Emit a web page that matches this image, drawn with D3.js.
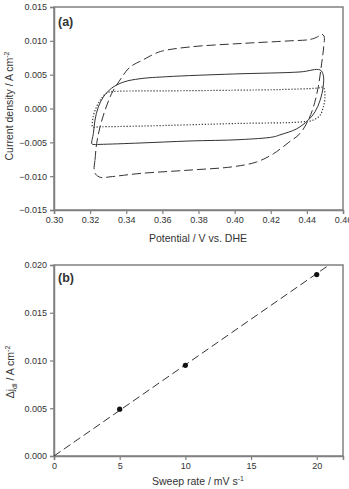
<!DOCTYPE html>
<html>
<head>
<meta charset="utf-8">
<script src="https://cdn.jsdelivr.net/npm/d3@7"></script>
<style>
  body { margin: 0; background: #fff; }
  text { font-family: "Liberation Sans", Arial, sans-serif; fill: #333; }
</style>
</head>
<body>
<svg id="chart" width="349" height="489"></svg>
<script>
// panel (a) - cyclic voltammograms
const potTicks = [0.30, 0.32, 0.34, 0.36, 0.38, 0.40, 0.42, 0.44, 0.46];
const curTicks = [-0.015, -0.010, -0.005, 0.000, 0.005, 0.010, 0.015];

// 20 mV/s (dashed)
const dashE = [0.3222, 0.3227, 0.3236, 0.3255, 0.3282, 0.3319, 0.3365, 0.3420, 0.3494, 0.3550, 0.3600, 0.3753, 0.4030, 0.4307, 0.4417, 0.4460, 0.4480, 0.4495, 0.4493, 0.4482, 0.4463, 0.4436, 0.4408, 0.4362, 0.4300, 0.4214, 0.4122, 0.3993, 0.3753, 0.3476, 0.3310, 0.3260, 0.3230];
const dashJ = [-0.0090, -0.0076, -0.0052, -0.0027, -0.0003, 0.0022, 0.0042, 0.0061, 0.0072, 0.0080, 0.0085, 0.0091, 0.0096, 0.0100, 0.0102, 0.0106, 0.0110, 0.0107, 0.0091, 0.0067, 0.0032, 0.0002, -0.0017, -0.0037, -0.0050, -0.0067, -0.0079, -0.0086, -0.0091, -0.0096, -0.0101, -0.0102, -0.0097];

// 10 mV/s (solid)
const solidE = [0.3209, 0.3218, 0.3227, 0.3245, 0.3273, 0.3319, 0.3384, 0.3476, 0.3624, 0.3993, 0.4362, 0.4473, 0.4491, 0.4490, 0.4473, 0.4445, 0.4408, 0.4344, 0.4251, 0.4214, 0.4030, 0.3753, 0.3476, 0.3255, 0.3215];
const solidJ = [-0.0052, -0.0037, -0.0017, 0.0002, 0.0017, 0.0030, 0.0039, 0.0044, 0.0047, 0.0051, 0.0054, 0.0057, 0.0049, 0.0032, 0.0012, -0.0005, -0.0017, -0.0030, -0.0039, -0.0042, -0.0046, -0.0048, -0.0051, -0.0053, -0.0053];

// 5 mV/s (dotted)
const dotE = [0.3214, 0.3214, 0.3227, 0.3255, 0.3292, 0.3330, 0.3624, 0.3993, 0.4251, 0.4454, 0.4491, 0.4500, 0.4491, 0.4473, 0.4436, 0.4362, 0.4030, 0.3476, 0.3255];
const dotJ = [-0.0027, -0.0017, -0.0003, 0.0012, 0.0023, 0.0025, 0.0026, 0.0027, 0.0028, 0.0030, 0.0031, 0.0017, 0.0002, -0.0010, -0.0017, -0.0020, -0.0022, -0.0026, -0.0027];

// panel (b) - double layer current vs sweep rate
const rateTicks = [0, 5, 10, 15, 20];
const djTicks = [0.000, 0.005, 0.010, 0.015, 0.020];
const sweepRate = [5, 10, 20];
const deltaJ = [0.0049, 0.0095, 0.0190];
const fitRate = [0, 20.94];
const fitDJ = [0, 0.020];

const svg = d3.select("#chart");
const frameColor = "#808080";
const lineColor = "#333";

function panel(top, bottom, xDom, yDom, xTicks, yTicks, xFmt, yFmt) {
  const x = d3.scaleLinear().domain(xDom).range([54, 343]);
  const y = d3.scaleLinear().domain(yDom).range([bottom, top]);
  const g = svg.append("g");
  g.append("rect")
    .attr("x", 54).attr("y", top)
    .attr("width", 289).attr("height", bottom - top)
    .attr("fill", "none").attr("stroke", frameColor).attr("stroke-width", 1.5);
  const xa = g.append("g").attr("transform", `translate(0,${bottom})`)
    .call(d3.axisBottom(x).tickValues(xTicks).tickFormat(xFmt).tickSize(4).tickPadding(3));
  const ya = g.append("g").attr("transform", "translate(54,0)")
    .call(d3.axisLeft(y).tickValues(yTicks).tickFormat(yFmt).tickSize(4).tickPadding(3));
  [xa, ya].forEach(a => {
    a.select(".domain").attr("stroke", frameColor).attr("stroke-width", 1.5);
    a.selectAll(".tick line").attr("stroke", frameColor).attr("stroke-width", 1.2);
    a.selectAll(".tick text").attr("font-size", 9).attr("fill", "#333")
      .attr("font-family", "Liberation Sans, Arial, sans-serif");
  });
  return { g, x, y };
}

// ---- (a)
const A = panel(7, 210, [0.30, 0.46], [-0.015, 0.015], potTicks, curTicks, d3.format(".2f"), d3.format(".3f"));

const loop = d3.line()
  .x(d => A.x(d[0])).y(d => A.y(d[1]))
  .curve(d3.curveCatmullRomClosed.alpha(0.5));

const loops = [
  { e: dotE, j: dotJ, dash: "1.2,1.8", w: 1.2 },
  { e: solidE, j: solidJ, dash: null, w: 1 },
  { e: dashE, j: dashJ, dash: "9,4", w: 1 }
];
loops.forEach(l => {
  A.g.append("path")
    .attr("d", loop(d3.zip(l.e, l.j)))
    .attr("fill", "none")
    .attr("stroke", lineColor)
    .attr("stroke-width", l.w)
    .attr("stroke-dasharray", l.dash);
});

A.g.append("text").attr("x", 58).attr("y", 26)
  .attr("font-size", 12.5).attr("font-weight", "bold").attr("fill", "#222").text("(a)");

A.g.append("text").attr("x", 198).attr("y", 242).attr("text-anchor", "middle")
  .attr("font-size", 10.5).text("Potential / V vs. DHE");

const yla = A.g.append("text").attr("transform", "translate(13,106) rotate(-90)")
  .attr("text-anchor", "middle").attr("font-size", 10.5);
yla.append("tspan").text("Current density / A cm");
yla.append("tspan").attr("dy", -4).attr("font-size", 7).text("-2");

// ---- (b)
const B = panel(265, 456, [0, 22], [0, 0.020], rateTicks, djTicks, d3.format("d"), d3.format(".3f"));

const fit = d3.line().x(d => B.x(d[0])).y(d => B.y(d[1]));
B.g.append("path")
  .attr("d", fit(d3.zip(fitRate, fitDJ)))
  .attr("fill", "none").attr("stroke", lineColor).attr("stroke-width", 1)
  .attr("stroke-dasharray", "8,4");

B.g.selectAll("circle.pt")
  .data(d3.zip(sweepRate, deltaJ))
  .join("circle")
  .attr("class", "pt")
  .attr("cx", d => B.x(d[0])).attr("cy", d => B.y(d[1]))
  .attr("r", 2.6).attr("fill", "#111");

B.g.append("text").attr("x", 58).attr("y", 282)
  .attr("font-size", 12.5).attr("font-weight", "bold").attr("fill", "#222").text("(b)");

const xlb = B.g.append("text").attr("x", 198).attr("y", 485).attr("text-anchor", "middle")
  .attr("font-size", 10.5);
xlb.append("tspan").text("Sweep rate / mV s");
xlb.append("tspan").attr("dy", -4).attr("font-size", 7).text("-1");

const ylb = B.g.append("text").attr("transform", "translate(14,372) rotate(-90)")
  .attr("text-anchor", "middle").attr("font-size", 10.5);
ylb.append("tspan").text("Δj");
ylb.append("tspan").attr("dy", 3).attr("font-size", 7).text("dl");
ylb.append("tspan").attr("dy", -3).text(" / A cm");
ylb.append("tspan").attr("dy", -4).attr("font-size", 7).text("-2");
</script>
</body>
</html>
